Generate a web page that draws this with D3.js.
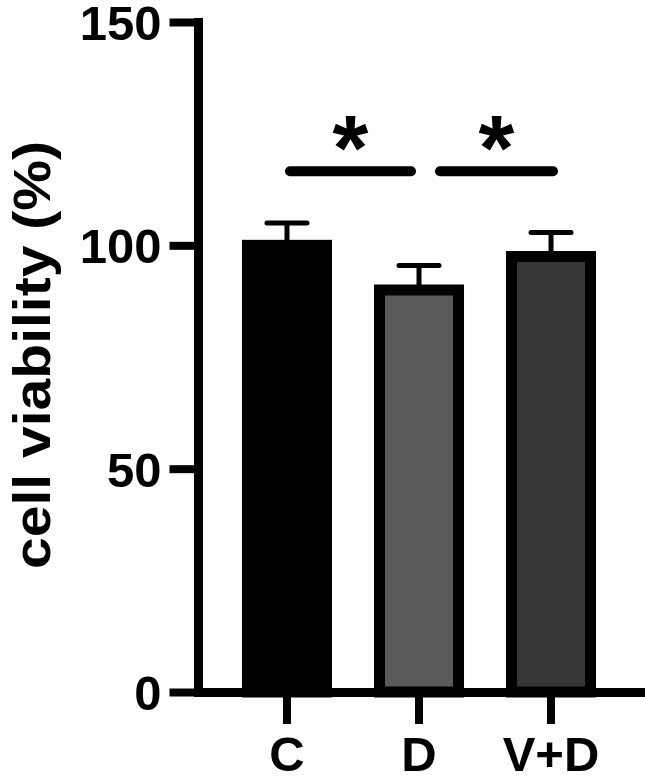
<!DOCTYPE html>
<html>
<head>
<meta charset="utf-8">
<script src="https://cdn.jsdelivr.net/npm/d3@7"></script>
<style>
  html, body { margin: 0; padding: 0; background: #fff; }
  svg { display: block; }
  text { font-family: "Liberation Sans", Arial, sans-serif; font-weight: bold; }
</style>
</head>
<body>
<svg id="chart" width="645" height="777"></svg>
<script>
// ---- data ----
const categories = ["C", "D", "V+D"];
const means = [100, 90, 97.5];
const errors = [5, 5.5, 5.4];
const fills = ["#000000", "#5a5a5a", "#363636"];
const yTicks = [0, 50, 100, 150];
const yLabel = "cell viability (%)";
const comparisons = [
  { from: "C", to: "D", level: 116.6, mark: "*" },
  { from: "D", to: "V+D", level: 116.6, mark: "*" }
];

// ---- layout ----
const FONT = "'Liberation Sans', Arial, sans-serif";
const svg = d3.select("#chart");
const y = d3.scaleLinear().domain([0, 150]).range([692, 22]);
const x = d3.scaleBand().domain(categories).range([198, 640])
  .paddingInner(0.318).paddingOuter(0.333);
const cx = c => x(c) + x.bandwidth() / 2;
const barStroke = 11;
const axisW = 9;

// bars
svg.append("g").selectAll("rect").data(categories).join("rect")
  .attr("x", c => x(c) + barStroke / 2)
  .attr("width", x.bandwidth() - barStroke)
  .attr("y", (c, i) => y(means[i]))
  .attr("height", (c, i) => y(0) - y(means[i]))
  .attr("fill", (c, i) => fills[i])
  .attr("stroke", "#000")
  .attr("stroke-width", barStroke);

// error bars
const eb = svg.append("g").attr("stroke", "#000").attr("stroke-width", 5);
categories.forEach((c, i) => {
  eb.append("line").attr("x1", cx(c)).attr("x2", cx(c))
    .attr("y1", y(means[i])).attr("y2", y(means[i] + errors[i]));
  eb.append("line").attr("x1", cx(c) - 20).attr("x2", cx(c) + 20)
    .attr("y1", y(means[i] + errors[i])).attr("y2", y(means[i] + errors[i]))
    .attr("stroke-linecap", "round");
});

// y axis
const yAxis = svg.append("g").attr("transform", "translate(198,0)")
  .call(d3.axisLeft(y).tickValues(yTicks).tickSize(28.5).tickSizeOuter(0).tickPadding(8));
yAxis.select(".domain").attr("stroke-width", axisW).attr("stroke-linecap", "square");
yAxis.selectAll(".tick line").attr("stroke-width", 8);
yAxis.selectAll(".tick text").attr("font-size", 49).attr("fill", "#000")
  .attr("font-family", FONT).attr("font-weight", "bold")
  .attr("dy", "0.36em");

// x axis
const xAxis = svg.append("g").attr("transform", "translate(0,692)")
  .call(d3.axisBottom(x).tickSize(32).tickSizeOuter(0).tickPadding(12));
xAxis.select(".domain").attr("stroke-width", axisW).attr("stroke-linecap", "square");
xAxis.selectAll(".tick line").attr("stroke-width", 8);
xAxis.selectAll(".tick text").attr("font-size", 49).attr("fill", "#000")
  .attr("font-family", FONT).attr("font-weight", "bold");

// y label
svg.append("text")
  .attr("transform", "translate(50,355) rotate(-90)")
  .attr("text-anchor", "middle")
  .attr("font-size", 52)
  .attr("textLength", 428)
  .attr("lengthAdjust", "spacingAndGlyphs")
  .text(yLabel);

// significance
const offsets = [[3, -8], [21, 2]];
comparisons.forEach((cmp, i) => {
  const x1 = cx(cmp.from) + offsets[i][0];
  const x2 = cx(cmp.to) + offsets[i][1];
  svg.append("line").attr("x1", x1).attr("x2", x2)
    .attr("y1", y(cmp.level)).attr("y2", y(cmp.level))
    .attr("stroke", "#000").attr("stroke-width", 10).attr("stroke-linecap", "round");
  svg.append("text").attr("x", (x1 + x2) / 2).attr("y", 180)
    .attr("text-anchor", "middle").attr("font-size", 92)
    .text(cmp.mark);
});
</script>
</body>
</html>
